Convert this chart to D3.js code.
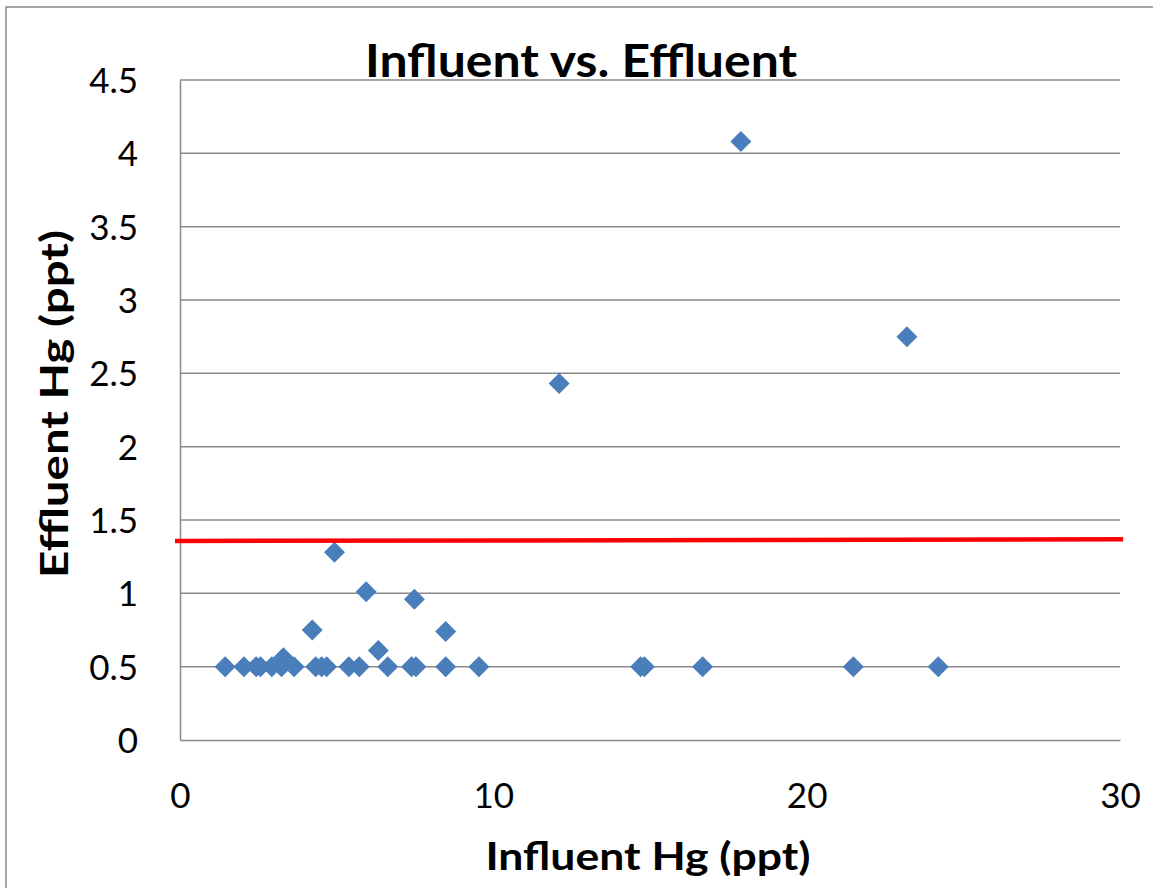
<!DOCTYPE html>
<html>
<head>
<meta charset="utf-8">
<script src="https://cdn.jsdelivr.net/npm/d3@7"></script>
<style>
  html, body { margin: 0; padding: 0; background: #fff; }
  svg { display: block; }
</style>
</head>
<body>
<svg id="chart" width="1153" height="888"></svg>
<script>
// Influent mercury (ppt) for each sample
const influent = [
  1.44, 2.04, 2.43, 2.57, 2.93, 3.24, 3.30, 3.64, 4.22, 4.33, 4.52, 4.68,
  4.93, 5.39, 5.72, 5.94, 6.33, 6.63, 7.39, 7.48, 7.53, 8.48, 8.48, 9.54,
  12.1, 14.7, 14.82, 16.68, 17.9, 21.49, 23.2, 24.2
];
// Effluent mercury (ppt) for the same samples
const effluent = [
  0.5, 0.5, 0.5, 0.5, 0.5, 0.5, 0.56, 0.5, 0.75, 0.5, 0.5, 0.5,
  1.28, 0.5, 0.5, 1.01, 0.61, 0.5, 0.5, 0.96, 0.5, 0.74, 0.5, 0.5,
  2.43, 0.5, 0.5, 0.5, 4.08, 0.5, 2.75, 0.5
];
// Reference limit line (x, y end points)
const limitX = [-0.16, 30.1];
const limitY = [1.357, 1.368];

const xTicks = [0, 10, 20, 30];
const yTicks = [0, 0.5, 1, 1.5, 2, 2.5, 3, 3.5, 4, 4.5];

const titleText = "Influent vs. Effluent";
const xTitle = "Influent Hg (ppt)";
const yTitle = "Effluent Hg (ppt)";

const svg = d3.select("#chart");
const plot = { left: 180, right: 1120, top: 80, bottom: 740 };

const x = d3.scaleLinear().domain([0, 30]).range([plot.left, plot.right]);
const y = d3.scaleLinear().domain([0, 4.5]).range([plot.bottom, plot.top]);

const gridColor = "#898989";
const font = "Lato, 'Open Sans', sans-serif";

// chart border
svg.append("rect")
  .attr("x", 6).attr("y", 7)
  .attr("width", 1160).attr("height", 900)
  .attr("fill", "none")
  .attr("stroke", gridColor)
  .attr("stroke-width", 1.5);

// horizontal gridlines
svg.append("g")
  .selectAll("line")
  .data(yTicks.filter(d => d > 0))
  .join("line")
  .attr("x1", plot.left).attr("x2", plot.right)
  .attr("y1", d => y(d)).attr("y2", d => y(d))
  .attr("stroke", gridColor)
  .attr("stroke-width", 1.5);

// y axis
const yAxis = svg.append("g")
  .attr("transform", `translate(${plot.left},0)`)
  .call(d3.axisLeft(y).tickValues(yTicks).tickSize(0).tickPadding(42).tickFormat(d3.format("")));
yAxis.select(".domain").attr("stroke", gridColor).attr("stroke-width", 1.5);
yAxis.selectAll("text")
  .attr("font-family", font)
  .attr("font-size", 35)
  .attr("fill", "#000")
  .attr("dy", "0.36em");

// x axis
const xAxis = svg.append("g")
  .attr("transform", `translate(0,${plot.bottom})`)
  .call(d3.axisBottom(x).tickValues(xTicks).tickSize(0).tickFormat(d3.format("")));
xAxis.select(".domain").attr("stroke", gridColor).attr("stroke-width", 1.5);
xAxis.selectAll("text")
  .attr("font-family", font)
  .attr("font-size", 35)
  .attr("fill", "#000")
  .attr("y", 68)
  .attr("dy", null);

// points as diamonds
const diamond = "M0,-10.5L10.5,0L0,10.5L-10.5,0Z";
svg.append("g")
  .selectAll("path")
  .data(influent.map((v, i) => [v, effluent[i]]))
  .join("path")
  .attr("d", diamond)
  .attr("transform", d => `translate(${x(d[0])},${y(d[1])})`)
  .attr("fill", "#4a7ebb");

// red limit line
svg.append("line")
  .attr("x1", x(limitX[0])).attr("y1", y(limitY[0]))
  .attr("x2", x(limitX[1])).attr("y2", y(limitY[1]))
  .attr("stroke", "#ff0000")
  .attr("stroke-width", 4.5);

// chart title
svg.append("text")
  .attr("x", 581).attr("y", 77)
  .attr("text-anchor", "middle")
  .attr("font-family", font)
  .attr("font-weight", "bold")
  .attr("font-size", 46)
  .attr("textLength", 432)
  .attr("lengthAdjust", "spacingAndGlyphs")
  .text(titleText);

// x axis title
svg.append("text")
  .attr("x", 648).attr("y", 870)
  .attr("text-anchor", "middle")
  .attr("font-family", font)
  .attr("font-weight", "bold")
  .attr("font-size", 39)
  .attr("textLength", 325)
  .attr("lengthAdjust", "spacingAndGlyphs")
  .text(xTitle);

// y axis title
svg.append("text")
  .attr("transform", "translate(68,404) rotate(-90)")
  .attr("text-anchor", "middle")
  .attr("font-family", font)
  .attr("font-weight", "bold")
  .attr("font-size", 39)
  .attr("textLength", 348)
  .attr("lengthAdjust", "spacingAndGlyphs")
  .text(yTitle);
</script>
</body>
</html>
